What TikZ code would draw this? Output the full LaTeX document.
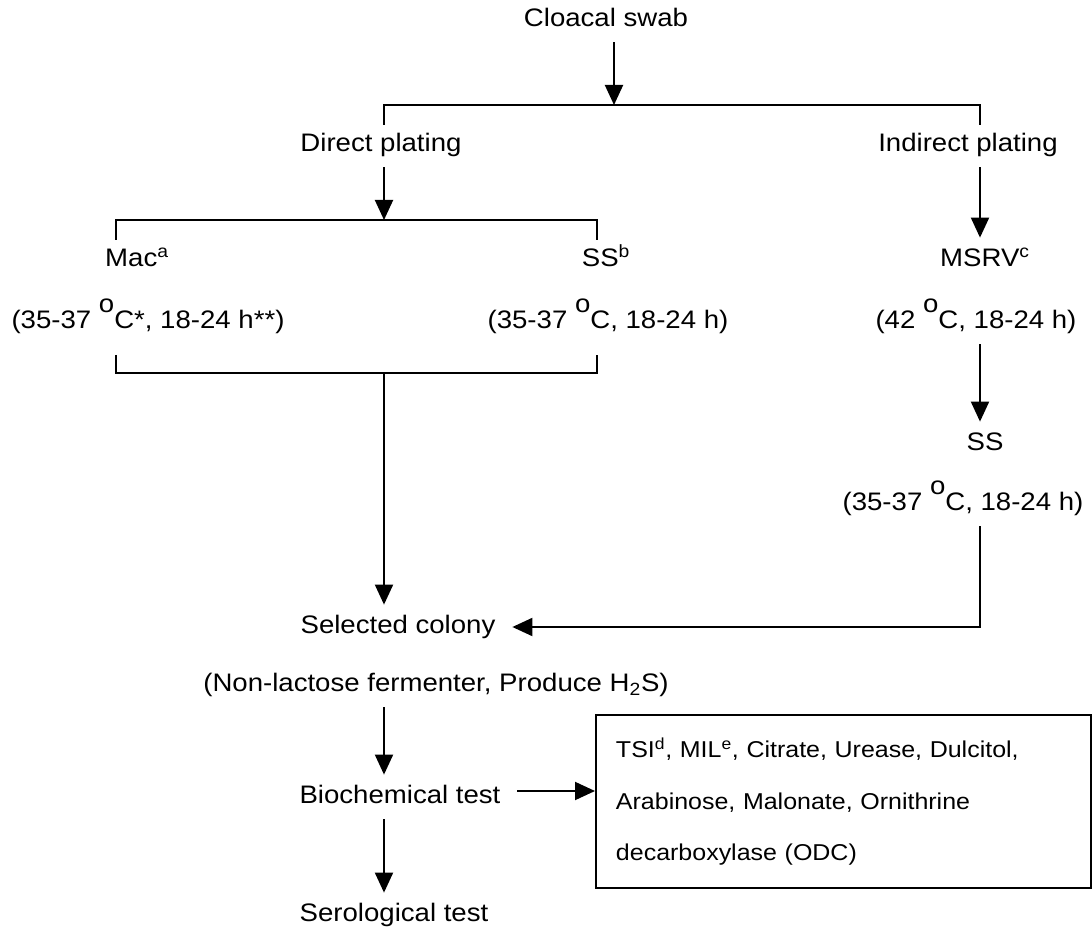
\documentclass[tikz,border=0pt]{standalone}
\usepackage{fontspec}
\setmainfont{Liberation Sans}[FakeStretch=1.09]
\usetikzlibrary{arrows.meta}
\newcommand{\degc}{\raisebox{0.62em}{o}C}
\begin{document}
\begin{tikzpicture}[x=0.025cm,y=-0.025cm,line width=1.4pt,
  txt/.style={inner xsep=0.4cm,inner ysep=0.25cm,text height=0.45cm,text depth=0.12cm,font=\fontsize{18}{21}\selectfont},
  arr/.style={-{Triangle[length=0.5cm,width=0.45cm]}}]
\useasboundingbox (0,0) rectangle (1092,931);
\node[txt] (swab) at (606,20) {Cloacal swab};
\node[txt] (direct) at (381,145) {Direct plating};
\node[txt] (indirect) at (968,145) {Indirect plating};
\node[txt] (mac) at (137,260) {Mac\textsuperscript{a}};
\node[txt] (ssb) at (606,260) {SS\textsuperscript{b}};
\node[txt] (msrv) at (985,260) {MSRV\textsuperscript{c}};
\node[txt] (cond1) at (148,322) {(35-37 \degc*, 18-24 h**)};
\node[txt] (cond2) at (608,322) {(35-37 \degc, 18-24 h)};
\node[txt] (cond3) at (976,322) {(42 \degc, 18-24 h)};
\node[txt] (ss2) at (985,444) {SS};
\node[txt] (cond4) at (963,504) {(35-37 \degc, 18-24 h)};
\node[txt] (sel) at (398,627) {Selected colony};
\node[txt] (nonlac) at (436,685) {(Non-lactose fermenter, Produce H\textsubscript{2}S)};
\node[txt] (biochem) at (400,797) {Biochemical test};
\node[txt] (serol) at (394,915) {Serological test};
\node[draw,anchor=north west,inner xsep=0.5cm,inner ysep=0pt,text width=11.375cm,minimum height=4.325cm,align=left,
  font=\fontsize{16.3}{36.6}\selectfont] (tests) at (595,714)
  {TSI\textsuperscript{d}, MIL\textsuperscript{e}, Citrate, Urease, Dulcitol,\\Arabinose, Malonate, Ornithrine\\decarboxylase (ODC)};
\coordinate (top) at (614,105);
\coordinate (dtick) at (384,125);
\coordinate (itick) at (980,125);
\coordinate (b2l) at (116,220);
\coordinate (b2r) at (597,220);
\coordinate (b3l) at (116,373);
\coordinate (b3r) at (597,373);
\coordinate (mid) at (384,373);
\draw[arr] (swab.south -| top) -- (top);
\draw (dtick) |- (top) -| (itick);
\draw[arr] (direct.south -| dtick) -- (dtick |- b2l);
\draw (b2l) ++(0,20) -- (b2l) -- (b2r) -- ++(0,20);
\draw (b3l) ++(0,-18) -- (b3l) -- (b3r) -- ++(0,-18);
\draw[arr] (indirect.south -| itick) -- (msrv.north -| itick);
\draw[arr] (mid) -- (sel.north -| mid);
\draw[arr] (cond3.south -| itick) -- (ss2.north -| itick);
\draw[arr] (cond4.south -| itick) |- (sel.east);
\draw[arr] (nonlac.south -| mid) -- (biochem.north -| mid);
\draw[arr] ([yshift=0.15cm]biochem.east) -- ([yshift=0.15cm]biochem.east -| tests.west);
\draw[arr] (biochem.south -| mid) -- (serol.north -| mid);
\end{tikzpicture}
\end{document}
